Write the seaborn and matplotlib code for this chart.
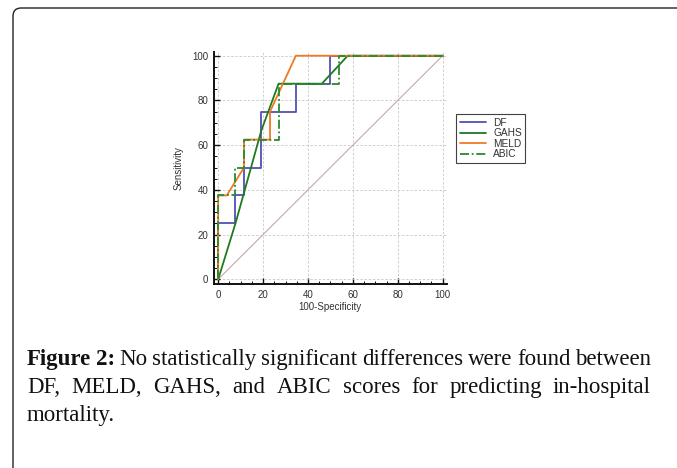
import numpy as np
import pandas as pd
import matplotlib
matplotlib.use("Agg")
import matplotlib.pyplot as plt
import seaborn as sns
from matplotlib.patches import FancyBboxPatch
from matplotlib.ticker import MultipleLocator

# ROC curves (x = 100-Specificity, y = Sensitivity)
df_x = [0, 0, 7.7, 7.7, 11.5, 11.5, 19.2, 19.2, 34.6, 34.6, 50, 50, 100]
df_y = [0, 25, 25, 37.5, 37.5, 50, 50, 75, 75, 87.5, 87.5, 100, 100]
gahs_x = [0, 7.7, 19.2, 26.9, 46.2, 57.7, 100]
gahs_y = [0, 25, 66.5, 87.5, 87.5, 100, 100]
meld_x = [0, 0, 3.8, 11.5, 11.5, 23.1, 23.1, 34.6, 100]
meld_y = [0, 37.5, 37.5, 50, 62.5, 62.5, 75, 100, 100]
abic_x = [0, 0, 7.7, 7.7, 11.5, 11.5, 26.9, 26.9, 53.8, 53.8, 100]
abic_y = [0, 37.5, 37.5, 50, 50, 62.5, 62.5, 87.5, 87.5, 100, 100]
ref_x = [0, 100]
ref_y = [0, 100]

series = ['DF', 'GAHS', 'MELD', 'ABIC']
colors = {'DF': '#5050b4', 'GAHS': '#1f7a1f', 'MELD': '#f07a22', 'ABIC': '#2a8a2a'}
styles = {'DF': '-', 'GAHS': '-', 'MELD': '-', 'ABIC': (0, (5, 1.5, 1, 1.5))}
curves = {'DF': (df_x, df_y), 'GAHS': (gahs_x, gahs_y),
          'MELD': (meld_x, meld_y), 'ABIC': (abic_x, abic_y)}

caption_lines = [
    "Figure 2: No statistically significant differences were found between",
    "DF, MELD, GAHS, and ABIC scores for predicting in-hospital",
    "mortality.",
]
bold_words = {"Figure", "2:"}

sns.set_theme(style="white")
plt.rcParams['font.family'] = ['Liberation Sans', 'DejaVu Sans']

W, H = 677, 468
fig = plt.figure(figsize=(W / 100, H / 100), dpi=100)
fig.patch.set_facecolor('white')

ax = fig.add_axes([213.7 / W, 1 - 284 / H, (446.7 - 213.7) / W, (284 - 51.7) / H])
ax.set_facecolor('white')

sns.lineplot(x=ref_x, y=ref_y, ax=ax, color='#cba5ae', linewidth=0.8, sort=False, estimator=None)
for name in series:
    x, y = curves[name]
    sns.lineplot(x=x, y=y, ax=ax, color=colors[name], linewidth=1.3, sort=False,
                 estimator=None, label=name, linestyle=styles[name])
ax.get_legend().remove()

ax.set_xlim(-2.0, 101.8)
ax.set_ylim(-2.1, 101.8)
ax.xaxis.set_major_locator(MultipleLocator(20))
ax.yaxis.set_major_locator(MultipleLocator(20))
ax.xaxis.set_minor_locator(MultipleLocator(5))
ax.yaxis.set_minor_locator(MultipleLocator(5))
ax.grid(True, which='major', color='#c8c8c8', linestyle=(0, (3, 2)), linewidth=0.6)
ax.set_axisbelow(True)
for s in ['top', 'right']:
    ax.spines[s].set_visible(False)
for s in ['left', 'bottom']:
    ax.spines[s].set_color('#111111')
    ax.spines[s].set_linewidth(1.4)
ax.tick_params(which='major', direction='in', length=4, width=1.0, colors='#111111',
               labelsize=7, labelcolor='#333333', pad=4, left=True, bottom=True)
ax.tick_params(which='minor', direction='in', length=2, width=0.7, colors='#111111',
               left=True, bottom=True)
ax.set_xlabel('100-Specificity', fontsize=7, color='#333333', labelpad=2)
ax.set_ylabel('Sensitivity', fontsize=7, color='#333333', labelpad=6)

handles, labels = ax.get_legend_handles_labels()
leg = fig.legend(handles, labels, loc='upper left', bbox_to_anchor=(456 / W, 1 - 114 / H),
                 fontsize=7.3, frameon=True, fancybox=False, shadow=False,
                 handlelength=2.6, handletextpad=0.7, labelspacing=0.05,
                 borderpad=0.35, borderaxespad=0)
leg.get_frame().set_edgecolor('#111111')
leg.get_frame().set_linewidth(0.8)
for t in leg.get_texts():
    t.set_color('#333333')

# rounded frame: only the left and top edges fall inside the canvas
frame = FancyBboxPatch((13 / W, -0.2), 2.0, (1 - 8 / H) + 0.2,
                       boxstyle='round,pad=0,rounding_size=0.012',
                       transform=fig.transFigure, facecolor='none',
                       edgecolor='#222222', linewidth=1.0, mutation_aspect=W / H)
fig.patches.append(frame)

# justified caption
fig.canvas.draw()
renderer = fig.canvas.get_renderer()
left, right = 27, 651
baselines = [365, 393, 421]
cap_kw = dict(fontsize=16.5, family=['Liberation Serif', 'DejaVu Serif'], color='#111111',
              va='baseline', ha='left')
for i, line in enumerate(caption_lines):
    words = line.split(' ')
    y = 1 - baselines[i] / H
    texts = [fig.text(0, y, w, weight='bold' if w in bold_words else 'normal', **cap_kw)
             for w in words]
    widths = [t.get_window_extent(renderer).width for t in texts]
    if i < len(caption_lines) - 1:
        gap = (right - left - sum(widths)) / (len(words) - 1)
    else:
        probe = fig.text(0, 0, 'a a', **cap_kw)
        probe2 = fig.text(0, 0, 'aa', **cap_kw)
        gap = probe.get_window_extent(renderer).width - probe2.get_window_extent(renderer).width
        probe.remove()
        probe2.remove()
    xpos = left
    for t, w in zip(texts, widths):
        t.set_x(xpos / W)
        xpos += w + gap

fig.savefig('out.png', dpi=100)
plt.close(fig)
